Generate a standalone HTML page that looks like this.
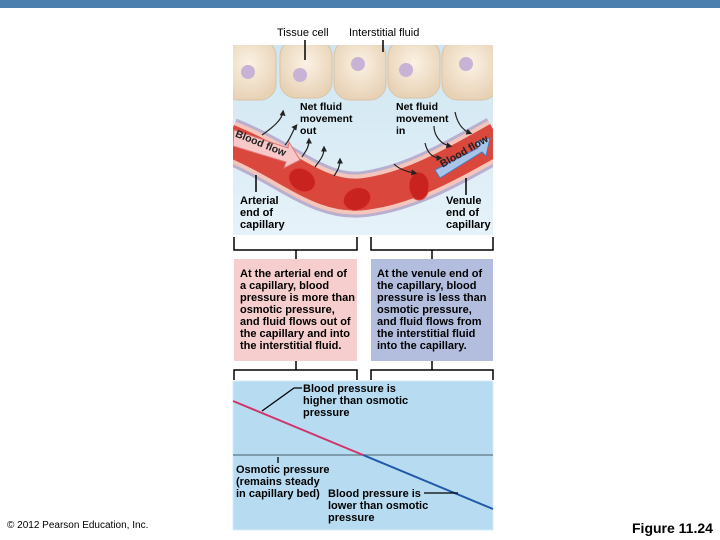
<!DOCTYPE html>
<html><head><style>
body{margin:0;width:720px;height:540px;background:#fff;position:relative;overflow:hidden;font-family:"Liberation Sans",Arial,sans-serif;}
.t{position:absolute;font-size:11px;line-height:12px;color:#000;}
.b{font-weight:bold;}
</style></head><body>
<div style="position:absolute;left:0;top:0;width:720px;height:8px;background:#4b7fad"></div>
<svg width="720" height="540" style="position:absolute;left:0;top:0">
<defs>
<linearGradient id="bg" x1="0" y1="0" x2="0" y2="1"><stop offset="0" stop-color="#cfe6f2"/><stop offset="1" stop-color="#e6f2f9"/></linearGradient>
<radialGradient id="cell" cx="0.5" cy="0.4" r="0.6"><stop offset="0" stop-color="#fbf2e4"/><stop offset="1" stop-color="#e8d2b6"/></radialGradient>
<marker id="ah" markerWidth="5" markerHeight="5" refX="3" refY="2.5" orient="auto"><path d="M0,0 L5,2.5 L0,5z" fill="#222"/></marker>
<clipPath id="cp"><rect x="233" y="45" width="260" height="190"/></clipPath>
</defs>
<rect x="233" y="45" width="260" height="190" fill="url(#bg)"/>
<g clip-path="url(#cp)">
<g fill="url(#cell)" stroke="#d9c3a6" stroke-width="1">
<rect x="222" y="40" width="54" height="60" rx="16"/>
<rect x="280" y="40" width="52" height="58" rx="16"/>
<rect x="334" y="40" width="52" height="60" rx="16"/>
<rect x="388" y="40" width="52" height="58" rx="16"/>
<rect x="442" y="40" width="56" height="60" rx="16"/>
</g>
<g fill="#c8b2d6"><circle cx="248" cy="72" r="7"/><circle cx="300" cy="75" r="7"/><circle cx="358" cy="64" r="7"/><circle cx="406" cy="70" r="7"/><circle cx="466" cy="64" r="7"/></g>
<path d="M228,140 C290,165 320,200 365,194 C410,188 450,165 498,138" fill="none" stroke="#b9b0d0" stroke-width="46"/>
<path d="M228,140 C290,165 320,200 365,194 C410,188 450,165 498,138" fill="none" stroke="#f4c6bb" stroke-width="40"/>
<path d="M228,140 C290,165 320,200 365,194 C410,188 450,165 498,138" fill="none" stroke="#d9473d" stroke-width="32"/>
<g fill="#c8231f" stroke="#e0413a"><ellipse cx="302" cy="180" rx="14" ry="11" transform="rotate(30 302 180)"/><ellipse cx="357" cy="199" rx="14" ry="11" transform="rotate(-20 357 199)"/><ellipse cx="419" cy="186" rx="10" ry="14"/></g>
<path d="M234,130 L288,148 L289,142 L300,160 L284,168 L286,162 L233,146z" fill="#f7c8c8" stroke="#d77" />
<path d="M435,170 L478,148 L476,142 L490,138 L486,156 L482,152 L440,178z" fill="#a8c4e8" stroke="#4a7cc0"/>
</g>
<g fill="none" stroke="#222" stroke-width="1.2" marker-end="url(#ah)">
<path d="M262,135 C272,128 282,120 283,112"/><path d="M285,145 C290,140 293,130 296,126"/><path d="M302,157 C305,152 309,148 309,140"/><path d="M315,167 C320,160 324,156 324,148"/><path d="M334,176 C338,170 340,166 340,160"/>
<path d="M394,164 C400,170 408,172 415,173"/><path d="M425,143 C427,152 432,158 440,158"/><path d="M434,126 C434,135 440,144 450,146"/><path d="M455,112 C457,122 462,130 470,133"/>
</g>
<g stroke="#000" stroke-width="1.5" fill="none">
<path d="M305,40 V60"/><path d="M383,40 V52"/>
<path d="M256,175 V192"/><path d="M466,178 V195"/>
<path d="M234,237 V250 H357 V237 M296,250 V259"/>
<path d="M371,237 V250 H493 V237 M432,250 V259"/>
<path d="M296,361 V370 M234,380 V370 H357 V380"/>
<path d="M432,361 V370 M371,380 V370 H493 V380"/>
</g>
<rect x="234" y="259" width="123" height="102" fill="#f5cecd"/>
<rect x="371" y="259" width="122" height="102" fill="#b3bedf"/>
<rect x="233" y="381" width="260" height="149" fill="#b7dcf1" stroke="#d6edf8"/>
<line x1="233" y1="455" x2="493" y2="455" stroke="#6e8898" stroke-width="1.5"/>
<line x1="233" y1="401" x2="363" y2="455" stroke="#d0356a" stroke-width="2"/>
<line x1="363" y1="455" x2="493" y2="509" stroke="#2059a8" stroke-width="2"/>
<g stroke="#000" stroke-width="1.3" fill="none"><path d="M262,411 L294,388 H302"/><path d="M278,457 V463"/><path d="M424,493 H458"/></g>
</svg>
<div class="t" style="left:277px;top:27px">Tissue cell</div>
<div class="t" style="left:349px;top:27px">Interstitial fluid</div>
<div class="t b" style="left:300px;top:101px;font-size:10.5px">Net fluid<br>movement<br>out</div>
<div class="t b" style="left:396px;top:101px;font-size:10.5px">Net fluid<br>movement<br>in</div>
<div class="t b" style="left:238px;top:128px;font-size:10.5px;transform:rotate(22deg);transform-origin:left top;color:#222">Blood flow</div>
<div class="t b" style="left:438px;top:160px;font-size:10.5px;transform:rotate(-30deg);transform-origin:left top;color:#222">Blood flow</div>
<div class="t b" style="left:240px;top:195px">Arterial<br>end of<br>capillary</div>
<div class="t b" style="left:446px;top:195px">Venule<br>end of<br>capillary</div>
<div class="t b" style="left:240px;top:268px">At the arterial end of<br>a capillary, blood<br>pressure is more than<br>osmotic pressure,<br>and fluid flows out of<br>the capillary and into<br>the interstitial fluid.</div>
<div class="t b" style="left:377px;top:268px">At the venule end of<br>the capillary, blood<br>pressure is less than<br>osmotic pressure,<br>and fluid flows from<br>the interstitial fluid<br>into the capillary.</div>
<div class="t b" style="left:303px;top:383px">Blood pressure is<br>higher than osmotic<br>pressure</div>
<div class="t b" style="left:236px;top:464px">Osmotic pressure<br>(remains steady<br>in capillary bed)</div>
<div class="t b" style="left:328px;top:488px">Blood pressure is<br>lower than osmotic<br>pressure</div>
<div class="t" style="left:7px;top:520px;font-size:10px">© 2012 Pearson Education, Inc.</div>
<div class="t b" style="left:632px;top:520px;font-size:14px;line-height:16px">Figure 11.24</div>
</body></html>
